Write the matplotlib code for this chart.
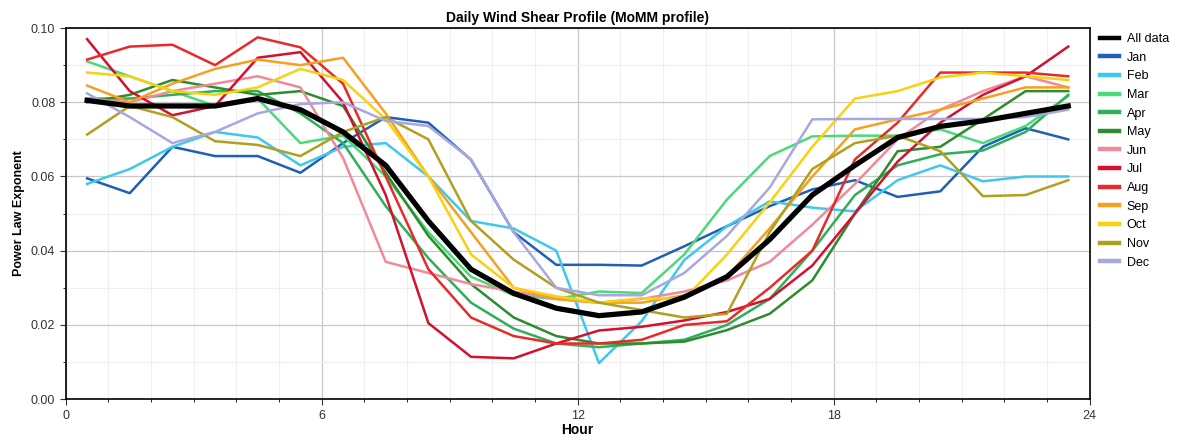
import matplotlib
matplotlib.use('Agg')
import matplotlib.pyplot as plt
import numpy as np
from matplotlib.ticker import MultipleLocator, FormatStrFormatter

plt.rcParams['font.family'] = ['Liberation Sans', 'DejaVu Sans']

# hourly bins (centre of each hour)
hours = np.arange(24) + 0.5

all_data = [0.0805, 0.079, 0.079, 0.079, 0.081, 0.078, 0.072, 0.063, 0.048, 0.035, 0.0285, 0.0245,
            0.0225, 0.0235, 0.0275, 0.033, 0.043, 0.055, 0.063, 0.0705, 0.0735, 0.075, 0.077, 0.079]
jan = [0.0595, 0.0555, 0.068, 0.0655, 0.0655, 0.061, 0.069, 0.076, 0.0745, 0.0645, 0.045, 0.0362,
       0.0362, 0.036, 0.0412, 0.0466, 0.052, 0.0565, 0.059, 0.0545, 0.056, 0.068, 0.073, 0.070]
feb = [0.058, 0.062, 0.068, 0.072, 0.0705, 0.063, 0.068, 0.069, 0.060, 0.048, 0.046, 0.040,
       0.0097, 0.021, 0.0375, 0.0466, 0.0533, 0.0516, 0.0506, 0.059, 0.063, 0.0587, 0.060, 0.060]
mar = [0.091, 0.087, 0.083, 0.079, 0.081, 0.069, 0.071, 0.060, 0.045, 0.033, 0.028, 0.027,
       0.029, 0.0286, 0.039, 0.0538, 0.0655, 0.0708, 0.071, 0.071, 0.0727, 0.069, 0.0736, 0.0817]
apr = [0.081, 0.081, 0.082, 0.083, 0.083, 0.077, 0.069, 0.052, 0.038, 0.026, 0.019, 0.015,
       0.014, 0.015, 0.016, 0.020, 0.027, 0.040, 0.055, 0.063, 0.066, 0.067, 0.072, 0.082]
may = [0.080, 0.082, 0.086, 0.084, 0.082, 0.083, 0.079, 0.061, 0.044, 0.031, 0.022, 0.017,
       0.015, 0.015, 0.0155, 0.0186, 0.023, 0.032, 0.050, 0.0668, 0.068, 0.0754, 0.083, 0.083]
jun = [0.081, 0.080, 0.083, 0.085, 0.087, 0.084, 0.065, 0.037, 0.034, 0.031, 0.029, 0.027,
       0.026, 0.027, 0.029, 0.032, 0.037, 0.047, 0.058, 0.070, 0.078, 0.083, 0.087, 0.084]
jul = [0.097, 0.083, 0.0765, 0.079, 0.092, 0.0935, 0.080, 0.055, 0.0205, 0.0114, 0.011, 0.015,
       0.0185, 0.0195, 0.0212, 0.0235, 0.027, 0.036, 0.050, 0.064, 0.0745, 0.082, 0.087, 0.095]
aug = [0.0915, 0.095, 0.0955, 0.090, 0.0975, 0.0948, 0.085, 0.060, 0.035, 0.022, 0.017, 0.015,
       0.015, 0.016, 0.020, 0.021, 0.030, 0.040, 0.0646, 0.0745, 0.088, 0.088, 0.088, 0.087]
sep = [0.0845, 0.080, 0.085, 0.089, 0.0915, 0.090, 0.092, 0.077, 0.060, 0.045, 0.030, 0.027,
       0.026, 0.026, 0.028, 0.033, 0.046, 0.060, 0.0727, 0.0754, 0.078, 0.081, 0.084, 0.084]
oct_ = [0.088, 0.087, 0.083, 0.082, 0.084, 0.089, 0.086, 0.0754, 0.060, 0.039, 0.030, 0.0277,
        0.026, 0.0272, 0.027, 0.039, 0.053, 0.068, 0.081, 0.083, 0.0867, 0.088, 0.087, 0.086]
nov = [0.0713, 0.079, 0.076, 0.0695, 0.0685, 0.0655, 0.072, 0.076, 0.070, 0.048, 0.0376, 0.030,
       0.026, 0.024, 0.022, 0.023, 0.045, 0.062, 0.069, 0.071, 0.0668, 0.0547, 0.055, 0.059]
dec = [0.0824, 0.076, 0.069, 0.072, 0.077, 0.0795, 0.080, 0.075, 0.0736, 0.0646, 0.045, 0.030,
       0.028, 0.028, 0.034, 0.044, 0.057, 0.0754, 0.0755, 0.0755, 0.0755, 0.0755, 0.076, 0.078]

month_names = ['Jan', 'Feb', 'Mar', 'Apr', 'May', 'Jun', 'Jul', 'Aug', 'Sep', 'Oct', 'Nov', 'Dec']
months = [jan, feb, mar, apr, may, jun, jul, aug, sep, oct_, nov, dec]
colors = ['#1F5FB4', '#3EC8EC', '#4CD97A', '#2EAF5A', '#2E8B2E', '#F08A9A',
          '#D4102E', '#E82A2A', '#F5A020', '#F8D210', '#B0A020', '#A8A8E0']

fig = plt.figure(figsize=(11.96, 4.45), dpi=100)
ax = fig.add_axes([0.055, 0.103, 0.856, 0.834])

ax.plot(hours, all_data, color='black', lw=3.8, label='All data', zorder=5)
for name, vals, c in zip(month_names, months, colors):
    ax.plot(hours, vals, color=c, lw=1.8, label=name, zorder=3)

ax.set_xlim(0, 24)
ax.set_ylim(0, 0.10)
ax.xaxis.set_major_locator(MultipleLocator(6))
ax.xaxis.set_minor_locator(MultipleLocator(1))
ax.yaxis.set_major_locator(MultipleLocator(0.02))
ax.yaxis.set_minor_locator(MultipleLocator(0.01))
ax.yaxis.set_major_formatter(FormatStrFormatter('%.2f'))
ax.grid(True, which='major', color='#c8c8c8', lw=0.9)
ax.grid(True, which='minor', color='#efefef', lw=0.8)
ax.set_axisbelow(True)
ax.tick_params(which='major', length=4, labelsize=9, colors='#333333')
ax.tick_params(which='minor', length=2)
for s in ax.spines.values():
    s.set_linewidth(1.2)

ax.set_title('Daily Wind Shear Profile (MoMM profile)', fontsize=10, fontweight='bold', pad=4)
ax.set_xlabel('Hour', fontsize=10, fontweight='bold', labelpad=1)
ax.set_ylabel('Power Law Exponent', fontsize=9, fontweight='bold')

leg = ax.legend(loc='upper left', bbox_to_anchor=(1.002, 1.01), frameon=False, fontsize=9,
                handlelength=1.5, handletextpad=0.6, labelspacing=0.53, borderaxespad=0.3)
for ln in leg.get_lines():
    ln.set_linewidth(3.2)

fig.savefig('out.png', dpi=100)
